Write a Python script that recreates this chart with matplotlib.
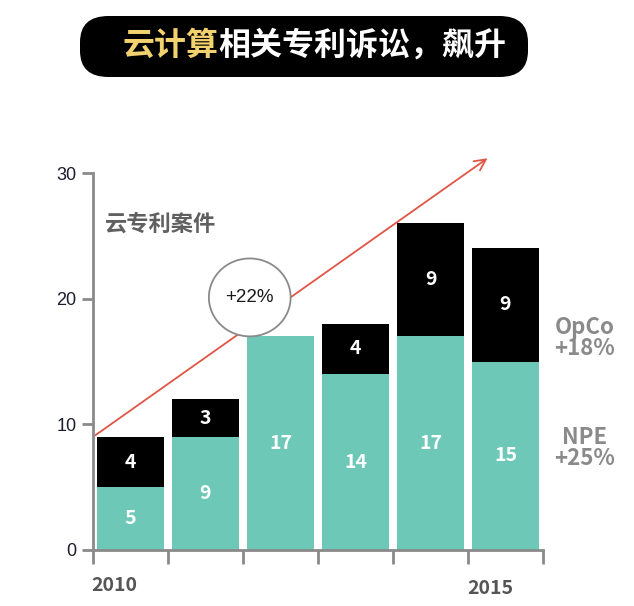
import matplotlib.pyplot as plt
from matplotlib.patches import FancyBboxPatch, Ellipse

plt.rcParams['font.family'] = ['Noto Sans CJK SC', 'DejaVu Sans']

years = ["2010", "2011", "2012", "2013", "2014", "2015"]
npe = [5, 9, 17, 14, 17, 15]
opco = [4, 3, 0, 4, 9, 9]
yticks = [0, 10, 20, 30]

teal = "#6dc8b8"
gray = "#8a8a8a"

fig = plt.figure(figsize=(6.34, 6.06), dpi=100)
ax = fig.add_axes([93 / 634, 56 / 606, 450 / 634, 377 / 606])

x = [i + 0.5 for i in range(len(years))]
ax.bar(x, npe, width=0.9, color=teal, zorder=2)
ax.bar(x, opco, width=0.9, bottom=npe, color="black", zorder=2)

for xi, n, o in zip(x, npe, opco):
    ax.text(xi, n / 2, str(n), ha="center", va="center", color="white",
            fontsize=14, fontweight="semibold", zorder=4)
    if o > 0:
        ax.text(xi, n + o / 2, str(o), ha="center", va="center", color="white",
                fontsize=14, fontweight="semibold", zorder=4)

ax.set_xlim(0, 6)
ax.set_ylim(0, 30)
ax.set_yticks(yticks)
ax.set_yticklabels([str(t) for t in yticks], fontsize=13, color="#1c1c30",
                   family=["Liberation Sans"])
ax.set_xticks(range(7))
ax.set_xticklabels([])
for s in ["top", "right"]:
    ax.spines[s].set_visible(False)
for s in ["left", "bottom"]:
    ax.spines[s].set_color(gray)
    ax.spines[s].set_linewidth(2)
ax.tick_params(axis="y", length=8, width=2, color=gray, pad=4)
ax.tick_params(axis="x", length=10, width=2, color=gray)

# 年份标签
ax.text(0.29, -2.8, years[0], ha="center", va="center", fontsize=14,
        fontweight="bold", color="#555555")
ax.text(5.3, -3.1, years[-1], ha="center", va="center", fontsize=14,
        fontweight="bold", color="#555555")

# 趋势箭头
ax.annotate("", xy=(5.29, 31.3), xytext=(0, 9),
            arrowprops=dict(arrowstyle="->,head_length=0.8,head_width=0.4",
                            color="#e05545", lw=1.3),
            annotation_clip=False, zorder=1)
ax.add_patch(Ellipse((2.09, 20.1), 1.09, 6.2, facecolor="white",
                     edgecolor=gray, lw=1.3, zorder=3))
ax.text(2.09, 20.1, "+22%", ha="center", va="center", fontsize=13.5,
        color="#1a1a1a", zorder=4, family=["Liberation Sans"])

ax.text(0.16, 25.9, "云专利案件", ha="left", va="center", fontsize=16,
        fontweight="bold", color="#606060")

ax.text(6.55, 16.9, "OpCo\n+18%", ha="center", va="center", fontsize=16,
        fontweight="bold", color=gray, linespacing=0.9, clip_on=False)
ax.text(6.55, 8.1, "NPE\n+25%", ha="center", va="center", fontsize=16,
        fontweight="bold", color=gray, linespacing=0.9, clip_on=False)

# 标题
box = FancyBboxPatch((80 / 634, 1 - 77 / 606), 448 / 634, 61 / 606,
                     boxstyle="round,pad=0,rounding_size=0.045",
                     transform=fig.transFigure, facecolor="black",
                     edgecolor="none", mutation_aspect=606 / 634)
fig.patches.append(box)
t1 = fig.text(122 / 634, 1 - 46 / 606, "云计算", ha="left", va="center",
              fontsize=23, fontweight="bold", color="#f2d26e")
fig.canvas.draw()
bb = t1.get_window_extent()
fig.text(bb.x1 / 634, 1 - 46 / 606, "相关专利诉讼，飙升", ha="left",
         va="center", fontsize=23, fontweight="bold", color="white")

fig.savefig("out.png", dpi=100)
